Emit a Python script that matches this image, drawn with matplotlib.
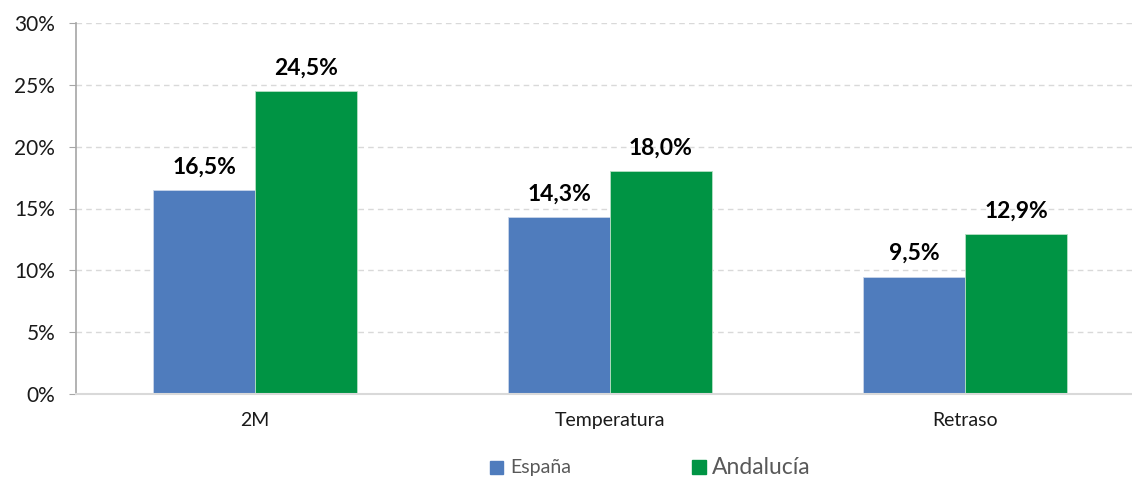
import numpy as np
import matplotlib.pyplot as plt

plt.rcParams['font.family'] = ['Lato', 'DejaVu Sans']

categorias = ['2M', 'Temperatura', 'Retraso']
espana = [16.5, 14.3, 9.5]
andalucia = [24.5, 18.0, 12.9]
series = ['España', 'Andalucía']

azul = '#4F7CBD'
verde = '#009444'

fig = plt.figure(figsize=(11.32, 4.83), dpi=100)
ax = fig.add_axes([76/1132, 89/483, 1 - 76/1132, 371/483])

x = np.arange(len(categorias))
w = 0.287
b1 = ax.bar(x - w/2, espana, w, color=azul, edgecolor='#C9D6EA', linewidth=0.6)
b2 = ax.bar(x + w/2, andalucia, w, color=verde, edgecolor='#B7E0C4', linewidth=0.6)

for bars, vals in ((b1, espana), (b2, andalucia)):
    for r, v in zip(bars, vals):
        ax.annotate(f'{v:.1f}%'.replace('.', ','), (r.get_x() + r.get_width()/2, v),
                    xytext=(0, 9), textcoords='offset points', ha='center', va='bottom',
                    fontsize=16.5, fontweight='bold', color='black')

ax.set_xlim(-0.504, 2.47)
ax.set_ylim(0, 30)
ax.set_yticks(range(0, 31, 5))
ax.set_yticklabels([f'{t}%' for t in range(0, 31, 5)], fontsize=15, color='#1a1a1a')
ax.set_xticks(x)
ax.set_xticklabels(categorias, fontsize=14, color='#1a1a1a')
ax.tick_params(axis='x', length=0, pad=13)
ax.tick_params(axis='y', length=5, color='#A6A6A6', pad=10)

ax.yaxis.grid(True, linestyle=(0, (4, 3)), color='#D9D9D9', linewidth=1)
ax.set_axisbelow(True)
for s in ('top', 'right'):
    ax.spines[s].set_visible(False)
ax.spines['left'].set_color('#A6A6A6')
ax.spines['left'].set_linewidth(1.2)
ax.spines['bottom'].set_color('#D9D9D9')
ax.spines['bottom'].set_linewidth(1.5)

# leyenda
fig.patches.append(plt.Rectangle((490/1132, 9/483), 13/1132, 13/483, color=azul,
                                 transform=fig.transFigure, figure=fig))
fig.text(510/1132, 15/483, series[0], fontsize=14, color='#595959', va='center')
fig.patches.append(plt.Rectangle((692/1132, 9/483), 14/1132, 14/483, color=verde,
                                 transform=fig.transFigure, figure=fig))
fig.text(712/1132, 15/483, series[1], fontsize=16.5, color='#595959', va='center')

fig.savefig('out.png', dpi=100)
